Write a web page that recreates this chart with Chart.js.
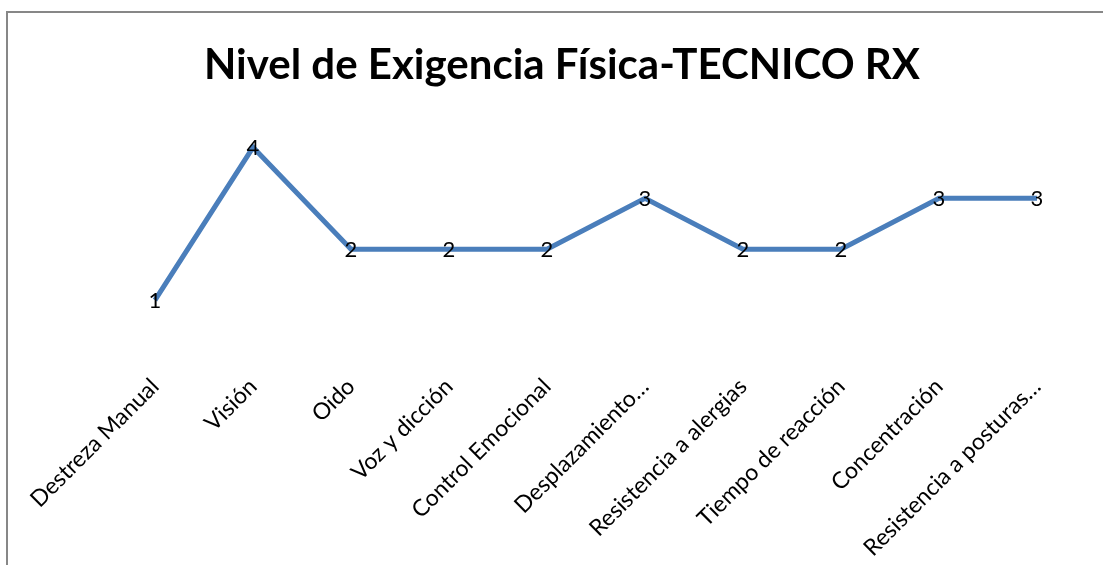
<!DOCTYPE html>
<html>
<head>
<meta charset="utf-8">
<script src="https://cdn.jsdelivr.net/npm/chart.js@4.4.1/dist/chart.umd.min.js"></script>
<style>
  body { margin: 0; background: #fff; }
  #frame { position: absolute; left: 6px; top: 11px; width: 1200px; height: 700px; border: 2px solid #878787; }
  #wrap { position: absolute; left: 0; top: 0; width: 1103px; height: 565px; }
</style>
</head>
<body>
<div id="frame"></div>
<div id="wrap"><canvas id="chart" width="1103" height="565"></canvas></div>
<script>
// categorias y valores
const categorias = [
  'Destreza Manual', 'Visión', 'Oido', 'Voz y dicción', 'Control Emocional',
  'Desplazamiento…', 'Resistencia a alergias', 'Tiempo de reacción',
  'Concentración', 'Resistencia a posturas…'
];
const niveles = [1, 4, 2, 2, 2, 3, 2, 2, 3, 3];
const titulo = 'Nivel de Exigencia Física-TECNICO RX';

const FUENTE = 'Lato, "Open Sans", sans-serif';

// dibuja el valor encima de cada punto
const etiquetasValor = {
  id: 'etiquetasValor',
  afterDatasetsDraw(chart) {
    const ctx = chart.ctx;
    const meta = chart.getDatasetMeta(0);
    ctx.save();
    ctx.font = '22px ' + FUENTE;
    ctx.fillStyle = '#000';
    ctx.textAlign = 'center';
    ctx.textBaseline = 'middle';
    meta.data.forEach((pt, i) => {
      ctx.fillText(String(niveles[i]), pt.x, pt.y + 1);
    });
    ctx.restore();
  }
};

const ctx = document.getElementById('chart').getContext('2d');
new Chart(ctx, {
  type: 'line',
  data: {
    labels: categorias,
    datasets: [{
      data: niveles,
      borderColor: '#4A7EBB',
      borderWidth: 5,
      pointRadius: 0,
      fill: false,
      tension: 0
    }]
  },
  options: {
    responsive: false,
    animation: false,
    layout: { padding: { left: 38, right: 17, top: 0, bottom: 0 } },
    plugins: {
      legend: { display: false },
      tooltip: { enabled: false },
      title: {
        display: true,
        text: titulo,
        color: '#000',
        font: { family: FUENTE, size: 42, weight: 'bold' },
        padding: { top: 40, bottom: 6 }
      }
    },
    scales: {
      x: {
        offset: true,
        grid: { display: false, drawTicks: false },
        border: { display: false },
        ticks: {
          color: '#000',
          font: { family: FUENTE, size: 23 },
          maxRotation: 45,
          minRotation: 45,
          autoSkip: false,
          padding: 22,
          labelOffset: 0
        },
        afterFit(scale) {
          // area del grafico empieza en x=106
          scale.paddingLeft = 106;
          scale.paddingRight = 0;
          scale.height = 565 - 351;
        }
      },
      y: {
        display: false,
        min: 0,
        max: 5
      }
    }
  },
  plugins: [etiquetasValor]
});
</script>
</body>
</html>
